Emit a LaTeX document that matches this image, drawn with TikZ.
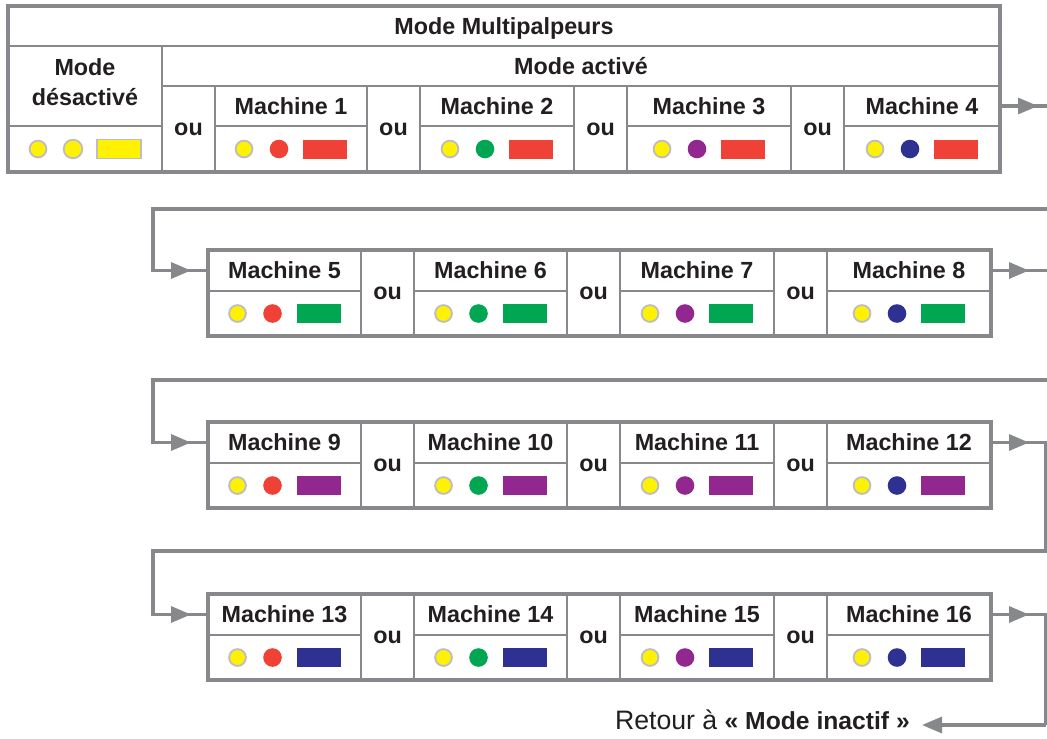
\documentclass[tikz,border=0pt]{standalone}
\usepackage{fontspec}
\setmainfont{Liberation Sans}
\usetikzlibrary{arrows.meta, positioning}
\definecolor{lineGray}{RGB}{135,136,140}
\definecolor{rimGray}{RGB}{190,190,192}
\definecolor{ink}{RGB}{35,31,32}
\definecolor{dotYellow}{RGB}{255,242,0}
\definecolor{dotRed}{RGB}{239,65,54}
\definecolor{dotGreen}{RGB}{0,166,81}
\definecolor{dotPurple}{RGB}{146,39,143}
\definecolor{dotBlue}{RGB}{46,49,146}
\newcommand\labelfont{\fontsize{17.5}{22.5}\selectfont}
\tikzset{
    cell/.style={draw=lineGray, line width=1.4pt, inner sep=0pt, outer sep=0pt,
                 font=\labelfont\bfseries, text=ink, align=center, text depth=0pt},
    frame/.style={draw=lineGray, line width=2.3pt},
    flow/.style={draw=lineGray, line width=2.5pt},
    flowtip/.style={flow, -{Triangle[length=15pt,width=12pt]}},
    rimdot/.style={draw=rimGray, fill=dotYellow, line width=1.4pt}
}
% one table cell, corners given in pixels
\newcommand\cell[7][]{\node[cell, #1, minimum width={((#4)-(#3))*0.75pt}, minimum height={((#6)-(#5))*0.75pt}]
    (#2) at ({((#3)+(#4))/2},{((#5)+(#6))/2}) {#7};}
% two lamps and a bar
\newcommand\dotset[3]{%
    \path[rimdot] (#1) ++(-47,0) circle (8.4);
    \path[#2] (#1) ++(-12,0) circle (9.3);
    \path[#3] (#1) ++(12,-9.5) rectangle ++(44,19);}

\begin{document}
\begin{tikzpicture}[x=0.75pt, y=-0.75pt]
    \useasboundingbox (0,0) rectangle (1047,739);

    % first table
    \cell{title}{8}{1000}{6}{46}{Mode Multipalpeurs}
    \cell[text depth=6pt]{off}{8}{162}{46}{126}{Mode\\désactivé}
    \cell{offd}{8}{162}{126}{172}{}
    \dotset{offd}{rimdot}{rimdot}
    \cell{on}{162}{1000}{46}{86}{Mode activé}
    \foreach \n/\xl/\xr/\dc in {1/215/367/dotRed, 2/420/574/dotGreen, 3/627/791/dotPurple, 4/844/1000/dotBlue}{
        \cell{m\n}{\xl}{\xr}{86}{126}{Machine \n}
        \cell{d\n}{\xl}{\xr}{126}{172}{}
        \dotset{d\n}{fill=\dc}{fill=dotRed}
    }
    \foreach \xl/\xr [count=\k] in {162/215, 367/420, 574/627, 791/844}{
        \cell{ou1\k}{\xl}{\xr}{86}{172}{ou}
    }
    \draw[frame] (title.north west) rectangle (d4.south east);

    % other rows
    \foreach \row/\ytop/\first/\rc in {2/250/5/dotGreen, 3/422/9/dotPurple, 4/594/13/dotBlue}{
        \foreach \i/\xl/\xr/\dc in {0/208/361/dotRed, 1/414/567/dotGreen, 2/620/774/dotPurple, 3/827/991/dotBlue}{
            \pgfmathtruncatemacro\n{\first+\i}
            \cell{m\n}{\xl}{\xr}{\ytop}{\ytop+41}{Machine \n}
            \cell{d\n}{\xl}{\xr}{\ytop+41}{\ytop+86}{}
            \dotset{d\n}{fill=\dc}{fill=\rc}
        }
        \foreach \xl/\xr [count=\k] in {361/414, 567/620, 774/827}{
            \cell{ou\row\k}{\xl}{\xr}{\ytop}{\ytop+86}{ou}
        }
    }
    \foreach \a/\b in {5/8, 9/12, 13/16}{
        \draw[frame] (m\a.north west) rectangle (d\b.south east);
    }

    % connectors between rows
    \foreach \a/\b/\tx/\wy in {4/5/1050/209, 8/9/1050/380, 12/13/1046/551}{
        \draw[flow] (m\a.east) -| (\tx,\wy) -| ([xshift=-41.25pt]m\b.west) -- (m\b.west);
        \draw[flowtip] (m\a.east) -- ++(38,0);
        \draw[flowtip] ([xshift=-41.25pt]m\b.west) -- ([xshift=-12.75pt]m\b.west);
    }

    % way back
    \node[anchor=base east, inner sep=0pt, font=\fontsize{20}{24}\selectfont, text=ink] (back) at (910,729)
        {Retour à {\fontsize{18.5}{22}\selectfont\bfseries « Mode inactif »}};
    \draw[flow] (m16.east) -| (1046,725);
    \draw[flowtip] (1046,725) -- ([xshift=9pt,yshift=3pt]back.base east);
    \draw[flowtip] (m16.east) -- ++(38,0);
\end{tikzpicture}
\end{document}
